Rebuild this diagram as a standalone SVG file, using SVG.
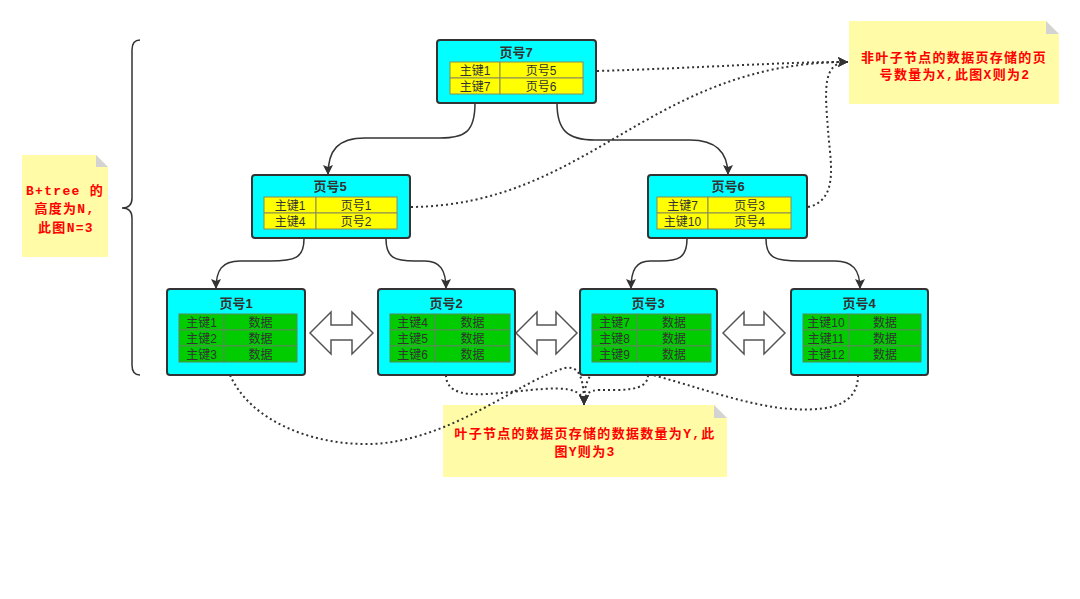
<svg xmlns="http://www.w3.org/2000/svg" width="1080" height="599" viewBox="0 0 1080 599">
<style>
.box{fill:#00FFFF;stroke:#333;stroke-width:2}
.y{fill:#FFFF00;stroke:#8A8A5A;stroke-width:1}
.g{fill:#00CC00;stroke:#5A8A5A;stroke-width:1}
.t{font-family:"Liberation Sans","Noto Sans CJK SC",sans-serif;font-size:12px;fill:#333;text-anchor:middle}
.tt{font-family:"Liberation Sans","Noto Sans CJK SC",sans-serif;font-size:13px;fill:#333;text-anchor:middle;font-weight:bold}
.note{fill:#FFFBA6;stroke:none}
.fold{fill:#D3D3D3}
.nt{font-family:"Liberation Mono","Noto Sans CJK SC",monospace;font-size:13px;fill:#FF0000;font-weight:bold;text-anchor:middle;letter-spacing:1.3px}
.sol{fill:none;stroke:#333;stroke-width:1.5}
.dot{fill:none;stroke:#333;stroke-width:2;stroke-dasharray:2 3}
.dbl{fill:#fff;stroke:#555;stroke-width:1.5}
</style>
<defs>
<marker id="ah" markerUnits="userSpaceOnUse" markerWidth="12" markerHeight="12" refX="10" refY="5" orient="auto">
<path d="M0,0 L10,5 L0,10 L2,5 z" fill="#333"/>
</marker>
</defs>

<g id="brace"><path d="M140,40 Q132,40 132,50 L132,198 Q132,208 122,208 Q132,208 132,218 L132,365 Q132,375 140,375" fill="none" stroke="#333" stroke-width="1.5"/></g>

<g id="noteX">
<polygon class="note" points="849,21 1046,21 1059,34 1059,104 849,104"/>
<polygon class="fold" points="1046,21 1059,34 1046,34"/>
<text class="nt" x="954" y="62">非叶子节点的数据页存储的页</text>
<text class="nt" x="955" y="79">号数量为X,此图X则为2</text>
</g>

<g id="noteN">
<polygon class="note" points="22,155 96,155 108,167 108,257 22,257"/>
<polygon class="fold" points="96,155 108,167 96,167"/>
<text class="nt" x="65" y="195">B+tree 的</text>
<text class="nt" x="65" y="213">高度为N,</text>
<text class="nt" x="66" y="232">此图N=3</text>
</g>

<g id="noteY">
<polygon class="note" points="443,405 714,405 727,418 727,477 443,477"/>
<polygon class="fold" points="714,405 727,418 714,418"/>
<text class="nt" x="585" y="438">叶子节点的数据页存储的数据数量为Y,此</text>
<text class="nt" x="585" y="456">图Y则为3</text>
</g>

<g id="connectors">
<path class="sol" marker-end="url(#ah)" d="M475,103 C475,132 465,138 440,138 L365,138 C338,138 328,150 328,175"/>
<path class="sol" marker-end="url(#ah)" d="M557,103 C557,130 567,140 595,140 L690,140 C715,140 728,152 728,175"/>
<path class="sol" marker-end="url(#ah)" d="M304,239 C304,258 295,261 270,261 L240,261 C222,261 216,270 216,289"/>
<path class="sol" marker-end="url(#ah)" d="M386,239 C386,258 395,261 415,261 L425,261 C440,261 446,270 446,289"/>
<path class="sol" marker-end="url(#ah)" d="M687,239 C687,258 678,261 660,261 L650,261 C636,261 631,270 631,289"/>
<path class="sol" marker-end="url(#ah)" d="M766,239 C766,258 775,261 800,261 L835,261 C853,261 860,270 860,289"/>

<path class="dot" marker-end="url(#ah)" d="M597,71 C700,68 780,62 848,62"/>
<path class="dot" marker-end="url(#ah)" d="M411,207 C590,205 650,62 848,62"/>
<path class="dot" marker-end="url(#ah)" d="M808,207 C840,200 830,160 828,130 C825,90 822,62 848,62"/>

<path class="dot" marker-end="url(#ah)" d="M230,375 C250,420 310,445 370,444 C450,442 520,380 565,368 C580,365 584,380 584,405"/>
<path class="dot" marker-end="url(#ah)" d="M446,375 C446,395 470,396 500,393 C540,390 584,380 584,405"/>
<path class="dot" marker-end="url(#ah)" d="M648,375 C648,392 620,390 600,390 C588,390 584,395 584,405"/>
<path class="dot" marker-end="url(#ah)" d="M858,375 C858,410 820,412 780,408 C720,400 650,368 610,368 C590,368 584,380 584,405"/>
</g>

<g id="arrows">
<polygon class="dbl" points="310,333 331,312 331,325 352,325 352,312 373,333 352,354 352,340 331,340 331,354"/>
<polygon class="dbl" points="516,333 537,312 537,325 556,325 556,312 577,333 556,354 556,340 537,340 537,354"/>
<polygon class="dbl" points="723,333 744,312 744,325 764,325 764,312 785,333 764,354 764,340 744,340 744,354"/>
</g>

<g id="n7">
<rect class="box" x="437" y="40" width="159" height="63" rx="3"/>
<text class="tt" x="516" y="57">页号7</text>
<rect class="y" x="450" y="62" width="50" height="16"/><rect class="y" x="500" y="62" width="83" height="16"/>
<rect class="y" x="450" y="78" width="50" height="16"/><rect class="y" x="500" y="78" width="83" height="16"/>
<text class="t" x="475" y="74.5">主键1</text><text class="t" x="541" y="74.5">页号5</text>
<text class="t" x="475" y="90.5">主键7</text><text class="t" x="541" y="90.5">页号6</text>
</g>

<g id="n5">
<rect class="box" x="252" y="175" width="158" height="63" rx="3"/>
<text class="tt" x="330" y="191">页号5</text>
<rect class="y" x="264" y="197" width="52" height="16"/><rect class="y" x="316" y="197" width="81" height="16"/>
<rect class="y" x="264" y="213" width="52" height="16"/><rect class="y" x="316" y="213" width="81" height="16"/>
<text class="t" x="290" y="209.5">主键1</text><text class="t" x="356" y="209.5">页号1</text>
<text class="t" x="290" y="225.5">主键4</text><text class="t" x="356" y="225.5">页号2</text>
</g>

<g id="n6">
<rect class="box" x="648" y="175" width="159" height="63" rx="3"/>
<text class="tt" x="728" y="191">页号6</text>
<rect class="y" x="657" y="197" width="51" height="16"/><rect class="y" x="708" y="197" width="83" height="16"/>
<rect class="y" x="657" y="213" width="51" height="16"/><rect class="y" x="708" y="213" width="83" height="16"/>
<text class="t" x="682.5" y="209.5">主键7</text><text class="t" x="749.5" y="209.5">页号3</text>
<text class="t" x="682.5" y="225.5">主键10</text><text class="t" x="749.5" y="225.5">页号4</text>
</g>

<g id="n1">
<rect class="box" x="167" y="289" width="138" height="86" rx="3"/>
<text class="tt" x="236" y="308">页号1</text>
<rect class="g" x="179" y="314" width="45" height="16"/><rect class="g" x="224" y="314" width="73" height="16"/>
<rect class="g" x="179" y="330" width="45" height="16"/><rect class="g" x="224" y="330" width="73" height="16"/>
<rect class="g" x="179" y="346" width="45" height="16"/><rect class="g" x="224" y="346" width="73" height="16"/>
<text class="t" x="201.5" y="326.5">主键1</text><text class="t" x="260.5" y="326.5">数据</text>
<text class="t" x="201.5" y="342.5">主键2</text><text class="t" x="260.5" y="342.5">数据</text>
<text class="t" x="201.5" y="358.5">主键3</text><text class="t" x="260.5" y="358.5">数据</text>
</g>

<g id="n2">
<rect class="box" x="378" y="289" width="137" height="86" rx="3"/>
<text class="tt" x="446" y="308">页号2</text>
<rect class="g" x="390" y="314" width="45" height="16"/><rect class="g" x="435" y="314" width="75" height="16"/>
<rect class="g" x="390" y="330" width="45" height="16"/><rect class="g" x="435" y="330" width="75" height="16"/>
<rect class="g" x="390" y="346" width="45" height="16"/><rect class="g" x="435" y="346" width="75" height="16"/>
<text class="t" x="412.5" y="326.5">主键4</text><text class="t" x="472.5" y="326.5">数据</text>
<text class="t" x="412.5" y="342.5">主键5</text><text class="t" x="472.5" y="342.5">数据</text>
<text class="t" x="412.5" y="358.5">主键6</text><text class="t" x="472.5" y="358.5">数据</text>
</g>

<g id="n3">
<rect class="box" x="580" y="289" width="137" height="86" rx="3"/>
<text class="tt" x="648" y="308">页号3</text>
<rect class="g" x="592" y="314" width="45" height="16"/><rect class="g" x="637" y="314" width="74" height="16"/>
<rect class="g" x="592" y="330" width="45" height="16"/><rect class="g" x="637" y="330" width="74" height="16"/>
<rect class="g" x="592" y="346" width="45" height="16"/><rect class="g" x="637" y="346" width="74" height="16"/>
<text class="t" x="614.5" y="326.5">主键7</text><text class="t" x="674" y="326.5">数据</text>
<text class="t" x="614.5" y="342.5">主键8</text><text class="t" x="674" y="342.5">数据</text>
<text class="t" x="614.5" y="358.5">主键9</text><text class="t" x="674" y="358.5">数据</text>
</g>

<g id="n4">
<rect class="box" x="791" y="289" width="137" height="86" rx="3"/>
<text class="tt" x="859" y="308">页号4</text>
<rect class="g" x="803" y="314" width="46" height="16"/><rect class="g" x="849" y="314" width="72" height="16"/>
<rect class="g" x="803" y="330" width="46" height="16"/><rect class="g" x="849" y="330" width="72" height="16"/>
<rect class="g" x="803" y="346" width="46" height="16"/><rect class="g" x="849" y="346" width="72" height="16"/>
<text class="t" x="826" y="326.5">主键10</text><text class="t" x="885" y="326.5">数据</text>
<text class="t" x="826" y="342.5">主键11</text><text class="t" x="885" y="342.5">数据</text>
<text class="t" x="826" y="358.5">主键12</text><text class="t" x="885" y="358.5">数据</text>
</g>
</svg>
